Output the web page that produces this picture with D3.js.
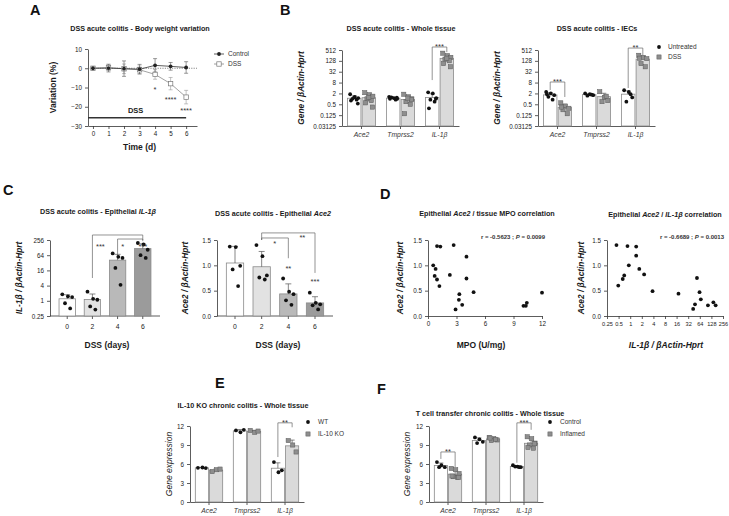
<!DOCTYPE html>
<html><head><meta charset="utf-8">
<script src="https://cdn.jsdelivr.net/npm/d3@7"></script>
<style>body{margin:0;background:#fff}svg{display:block}</style>
</head><body><svg id="c" width="729" height="516"></svg>
<script>
// ---------------- DATA ----------------
// Panel A
const aDays = [0,1,2,3,4,5,6];
const aYTicks = [10,0,-10,-20,-30];
const aControl = [0,0.1,-0.2,-0.5,1.5,1.0,0.4];
const aControlSD = [0.4,2.0,4.0,2.5,3.5,2.0,3.0];
const aDSS = [0,0.3,-0.3,-0.8,-3.2,-8,-15];
const aDSSSD = [0.4,1.5,2.5,2.0,2.5,3.2,3.5];
const aSig = [{day:4,v:-12.5,t:"*"},{day:5,v:-17.7,t:"****"},{day:6,v:-23.4,t:"****"}];

// Panel B
const bGenes = ["Ace2","Tmprss2","IL-1β"];
const bTicks = [0.03125,0.125,0.5,2,8,32,128,512];
const bWholeUntreated = [[1.8,1.3,1.1,1.0,0.9,0.8,0.55,1.2],[1.3,1.1,1.0,1.2,0.9,1.0,1.15],[2.3,2.0,1.1,0.9,0.7,0.3,1.0]];
const bWholeDSS = [[2.2,1.7,1.4,1.0,0.8,0.6,0.35,1.2],[1.8,1.3,1.0,0.7,0.5,0.15,0.9,1.1],[340,250,200,160,130,90,60,180]];
const bIECUntreated = [[2.4,2.0,1.6,1.3,0.9,1.8],[2.0,1.8,1.6,1.5,1.7],[3.0,2.4,1.2,0.7,1.8]];
const bIECDSS = [[0.6,0.4,0.3,0.25,0.15,0.35],[2.5,1.2,0.8,0.7,1.4],[260,200,170,90,60,180]];
const bWholeSig = [{gene:"IL-1β",t:"***",line:750,left:11,right:390}];
const bIECSig = [{gene:"Ace2",t:"***",line:8.6,left:3.1,right:1.27},{gene:"IL-1β",t:"**",line:657,left:4,right:270}];

// Panel C
const cDays = ["0","2","4","6"];
const cIL1bTicks = [0.25,1,4,16,64,256];
const cIL1b = [[1.8,1.5,1.4,0.8,0.5],[2.3,1.2,1.1,0.6,0.45],[75,55,50,20,4.3],[195,170,105,64,50]];
const cAce2Ticks = [0,0.5,1.0,1.5];
const cAce2 = [[1.37,1.36,0.99,0.92,0.59],[1.40,1.18,0.80,0.76,0.72],[0.74,0.48,0.43,0.31,0.22],[0.46,0.26,0.23,0.21,0.13]];

// Panel D
const dMPO = [0.55,0.7,0.8,0.95,0.95,1.3,1.2,2.3,2.7,2.9,3.25,3.3,3.6,4.05,4.05,4.8,10.05,10.3,10.4,12.0];
const dAce2MPO = [1.0,0.79,0.93,1.38,0.72,1.37,0.59,0.81,1.40,0.13,0.32,0.43,0.22,1.17,0.74,0.47,0.20,0.20,0.26,0.46];
const dIL1b = [0.44,0.49,0.64,0.70,0.85,0.92,1.43,1.43,1.72,2.3,3.8,17.9,43,48,54,63,68,104,144,165];
const dAce2IL1b = [1.40,0.60,0.73,0.80,1.38,1.0,1.37,1.19,0.93,0.82,0.49,0.44,0.14,0.23,0.75,0.47,0.33,0.21,0.27,0.21];
const dMPOTicks = [0,3,6,9,12];
const dLogTicks = [0.25,0.5,1,2,4,8,16,32,64,128,256];
const dYTicks = [0,0.5,1.0,1.5];

// Panel E / F
const efGenes = ["Ace2","Tmprss2","IL-1β"];
const efTicks = [0,3,6,9,12];
const eWT = [[5.4,5.45,5.35],[11.3,11.0,11.4],[6.3,4.7,5.0]];
const eKO = [[4.8,5.1,5.2],[11.3,11.0,11.2],[9.7,9.0,7.9]];
const fControl = [[6.3,5.8,5.5,5.5],[10.2,9.9,9.5,9.3],[5.8,5.6,5.5,5.6,5.5]];
const fInflamed = [[5.3,5.1,4.5,4.0,3.9,4.1,3.9],[10.2,10.0,9.8,9.7,9.9,10.1],[10.3,10.0,9.3,9.0,8.5,8.6,9.2]];
const eSig = [{gene:"IL-1β",t:"**",line:12.5,left:7.1,right:11.8}];
const fSig = [{gene:"Ace2",t:"**",line:7.9,left:6.8,right:5.5},{gene:"IL-1β",t:"***",line:12.5,left:6.2,right:11.4}];

// ---------------- HELPERS ----------------
const svg = d3.select("#c");
const FONT = '"Liberation Sans", Arial, sans-serif';
const INK = "#1a1a1a", AXC = "#333";
const TITLE = 7.2, TICK = 6.3;
const spread = [-1,0.15,1,-0.45,0.6,-0.8,0.9,0];
svg.append("rect").attr("width",729).attr("height",516).attr("fill","#fff");

function styleAxis(g){
  g.select(".domain").attr("stroke",AXC).attr("stroke-width",0.8);
  g.selectAll(".tick line").attr("stroke",AXC).attr("stroke-width",0.8);
  g.selectAll(".tick text").attr("font-size",TICK).attr("fill",INK).attr("font-family",FONT);
}
function txt(x,y,parts,o={}){
  const t = svg.append("text").attr("x",x).attr("y",y)
    .attr("text-anchor",o.anchor||"middle").attr("font-size",o.size||6.6)
    .attr("font-weight",o.bold?"bold":"normal").attr("fill",o.fill||INK).attr("font-family",FONT);
  if(o.italic) t.attr("font-style","italic");
  if(o.rotate) t.attr("transform",`rotate(-90,${x},${y})`);
  if(typeof parts==="string") t.text(parts);
  else parts.forEach(p=>{const s=t.append("tspan").text(p[0]); if(p[1]) s.attr("font-style","italic");});
  return t;
}
function line(x1,y1,x2,y2,c,w,dash){
  const l = svg.append("line").attr("x1",x1).attr("y1",y1).attr("x2",x2).attr("y2",y2).attr("stroke",c||AXC).attr("stroke-width",w||0.8);
  if(dash) l.attr("stroke-dasharray",dash);
  return l;
}
function errUp(x,y0,y1,cap,c){ line(x,y0,x,y1,c||"#555",0.7); line(x-cap/2,y1,x+cap/2,y1,c||"#555",0.7); }
function dot(x,y){ svg.append("circle").attr("cx",x).attr("cy",y).attr("r",1.9).attr("fill","#111"); }
function sq(x,y){ svg.append("rect").attr("x",x-2.1).attr("y",y-2.1).attr("width",4.2).attr("height",4.2).attr("fill","#8e8e8e").attr("stroke","#5a5a5a").attr("stroke-width",0.5); }
function bracket(x1,x2,yl,ya,yb,label){
  svg.append("path").attr("d",`M${x1},${ya}V${yl}H${x2}V${yb}`).attr("fill","none").attr("stroke","#666").attr("stroke-width",0.7);
  if(label) txt((x1+x2)/2,yl+1.8,label,{size:7.5,fill:"#333"});
}

// ---------------- PANEL LETTERS ----------------
[["A",30,15],["B",280,15],["C",3,195],["D",380,199],["E",215,388],["F",377,394]].forEach(d=>
  txt(d[1],d[2],d[0],{size:14.5,bold:true,anchor:"start",fill:"#111"}));

// ---------------- PANEL A ----------------
{
  const x = d3.scaleLinear().domain([-0.32,6.7]).range([88,197]);
  const y = d3.scaleLinear().domain([-30,10]).range([126,49]);
  svg.append("g").attr("transform","translate(88,0)").call(d3.axisLeft(y).tickValues(aYTicks).tickFormat(d3.format("d")).tickSize(3).tickSizeOuter(0)).call(styleAxis);
  svg.append("g").attr("transform","translate(0,126)").call(d3.axisBottom(x).tickValues(aDays).tickFormat(d3.format("d")).tickSize(3).tickSizeOuter(0)).call(styleAxis);
  line(x(-0.32),y(0),x(6.7),y(0),"#555",0.7,"1.2,1.2");
  const ln = d3.line().x((d,i)=>x(aDays[i])).y(d=>y(d));
  svg.append("path").attr("d",ln(aDSS)).attr("fill","none").attr("stroke","#8a8a8a").attr("stroke-width",0.8);
  svg.append("path").attr("d",ln(aControl)).attr("fill","none").attr("stroke","#333").attr("stroke-width",0.8);
  aDays.forEach((d,i)=>{
    line(x(d),y(aDSS[i]-aDSSSD[i]),x(d),y(aDSS[i]+aDSSSD[i]),"#999",0.6);
    line(x(d)-2,y(aDSS[i]-aDSSSD[i]),x(d)+2,y(aDSS[i]-aDSSSD[i]),"#999",0.6);
    line(x(d)-2,y(aDSS[i]+aDSSSD[i]),x(d)+2,y(aDSS[i]+aDSSSD[i]),"#999",0.6);
    line(x(d),y(aControl[i]-aControlSD[i]),x(d),y(aControl[i]+aControlSD[i]),"#555",0.6);
    line(x(d)-2,y(aControl[i]-aControlSD[i]),x(d)+2,y(aControl[i]-aControlSD[i]),"#555",0.6);
    line(x(d)-2,y(aControl[i]+aControlSD[i]),x(d)+2,y(aControl[i]+aControlSD[i]),"#555",0.6);
    svg.append("rect").attr("x",x(d)-2.2).attr("y",y(aDSS[i])-2.2).attr("width",4.4).attr("height",4.4).attr("fill","#fff").attr("stroke","#777").attr("stroke-width",0.7);
    svg.append("circle").attr("cx",x(d)).attr("cy",y(aControl[i])).attr("r",1.9).attr("fill","#222");
  });
  aSig.forEach(s=>txt(x(s.day),y(s.v),s.t,{size:7.5,fill:"#333"}));
  line(x(-0.32),y(-25.7),x(6),y(-25.7),"#333",1.5);
  txt(x(2.75),y(-23.4),"DSS",{bold:true,size:7.5});
  txt(56,y(-10),"Variation (%)",{bold:true,size:8.5,rotate:true});
  txt(x(3),150,"Time (d)",{bold:true,size:8.5});
  txt(140,31,"DSS acute colitis - Body weight variation",{bold:true,size:TITLE});
  // legend
  line(214,54,224,54,"#333",0.8); svg.append("circle").attr("cx",219).attr("cy",54).attr("r",1.9).attr("fill","#222");
  txt(228,56.2,"Control",{anchor:"start",size:6.5,fill:"#333"});
  line(214,64,224,64,"#888",0.8); svg.append("rect").attr("x",216.8).attr("y",61.8).attr("width",4.4).attr("height",4.4).attr("fill","#fff").attr("stroke","#777").attr("stroke-width",0.7);
  txt(228,66.2,"DSS",{anchor:"start",size:6.5,fill:"#333"});
}

// ---------------- GROUPED BAR helper ----------------
function grouped(o){
  const x0 = d3.scaleBand().domain(o.genes).range([o.ax,o.ax+o.w]).paddingInner(0.28).paddingOuter(0.14);
  const x1 = d3.scaleBand().domain([0,1]).range([0,x0.bandwidth()]).paddingInner(0.08);
  const y = o.y, base = y.range()[0];
  svg.append("g").attr("transform",`translate(${o.ax},0)`).call(d3.axisLeft(y).tickValues(o.ticks).tickFormat(o.fmt).tickSize(3).tickSizeOuter(0)).call(styleAxis);
  const xa = svg.append("g").attr("transform",`translate(0,${base})`).call(d3.axisBottom(x0).tickSize(3).tickSizeOuter(0)).call(styleAxis);
  xa.selectAll(".tick text").attr("font-style","italic").attr("font-size",6.8).attr("fill","#333");
  [o.g0,o.g1].forEach((grp,k)=>{
    grp.forEach((vals,gi)=>{
      const bw = x1.bandwidth(), gx = x0(o.genes[gi])+x1(k), cx = gx+bw/2;
      const m = d3.mean(vals), sd = d3.deviation(vals);
      svg.append("rect").attr("x",gx).attr("y",y(m)).attr("width",bw).attr("height",base-y(m))
        .attr("fill",k?"#dadada":"#fff").attr("stroke","#8a8a8a").attr("stroke-width",0.8);
      errUp(cx,y(m),y(m+sd),5);
      vals.forEach((v,i)=>{ const px = cx+spread[i%spread.length]*bw*0.3; k?sq(px,y(v)):dot(px,y(v)); });
    });
  });
  o.sig.forEach(s=>{
    const xa_ = x0(s.gene)+x1(0)+x1.bandwidth()/2, xb_ = x0(s.gene)+x1(1)+x1.bandwidth()/2;
    bracket(xa_,xb_,y(s.line),y(s.left),y(s.right),s.t);
  });
  return {x0,x1};
}

// ---------------- PANEL B ----------------
{
  const y = d3.scaleLog().base(2).domain([0.03125,512]).range([126,50]);
  const fmt = d=>String(d);
  grouped({genes:bGenes,ax:342,w:117,y,ticks:bTicks,fmt,g0:bWholeUntreated,g1:bWholeDSS,sig:bWholeSig});
  grouped({genes:bGenes,ax:538,w:117,y,ticks:bTicks,fmt,g0:bIECUntreated,g1:bIECDSS,sig:bIECSig});
  txt(401,31,"DSS acute colitis - Whole tissue",{bold:true,size:TITLE});
  txt(597,31,"DSS acute colitis - IECs",{bold:true,size:TITLE});
  txt(304,88,"Gene / βActin-Hprt",{bold:true,italic:true,size:8.3,rotate:true});
  txt(500,88,"Gene / βActin-Hprt",{bold:true,italic:true,size:8.3,rotate:true});
  dot(659,47); txt(668,49.2,"Untreated",{anchor:"start",size:6.5,fill:"#333"});
  sq(659,57); txt(668,59.2,"DSS",{anchor:"start",size:6.5,fill:"#333"});
}

// ---------------- PANEL C ----------------
const cFills = ["#ffffff","#e2e2e2","#b9b9b9","#9b9b9b"];
function cPanel(o){
  const x = d3.scaleBand().domain(cDays).range([o.ax+4,o.ax+o.w]).paddingInner(0.35).paddingOuter(0.2);
  const y = o.y, base = y.range()[0];
  svg.append("g").attr("transform",`translate(${o.ax},0)`).call(d3.axisLeft(y).tickValues(o.ticks).tickFormat(o.fmt).tickSize(3).tickSizeOuter(0)).call(styleAxis);
  const xa = svg.append("g").attr("transform",`translate(0,${base})`).call(d3.axisBottom(x).tickSize(3).tickSizeOuter(0)).call(styleAxis);
  xa.select(".domain").attr("d",`M${o.ax},0H${o.ax+o.w+4}`);
  xa.selectAll(".tick text").attr("font-size",6.8).attr("dy","1.0em");
  o.data.forEach((vals,i)=>{
    const bw = x.bandwidth(), gx = x(cDays[i]), cx = gx+bw/2;
    const m = d3.mean(vals), sd = d3.deviation(vals);
    svg.append("rect").attr("x",gx).attr("y",y(m)).attr("width",bw).attr("height",base-y(m))
      .attr("fill",cFills[i]).attr("stroke","#8a8a8a").attr("stroke-width",0.8);
    errUp(cx,y(m),y(m+sd),6);
    vals.forEach((v,j)=>dot(cx+spread[j%spread.length]*bw*0.3,y(v)));
  });
  return x;
}
{
  const y = d3.scaleLog().base(2).domain([0.25,256]).range([316,240]);
  const x = cPanel({ax:50,w:106,y,ticks:cIL1bTicks,fmt:d=>String(d),data:cIL1b});
  const c = d=>x(d)+x.bandwidth()/2;
  bracket(c("2"),c("6"),y(404),y(8),y(256),null);
  bracket(c("4"),c("6"),y(280),y(65),y(230),null);
  txt(c("2")+8,249,"***",{size:7.5,fill:"#333"});
  txt(c("4")+5,249,"*",{size:7.5,fill:"#333"});
  txt(c("6"),249,"***",{size:7.5,fill:"#333"});
  txt(98,214,[["DSS acute colitis - Epithelial ",false],["IL-1β",true]],{bold:true,size:TITLE});
  txt(22,278,"IL-1β / βActin-Hprt",{bold:true,italic:true,size:8.3,rotate:true});
  txt(107,348,"DSS (days)",{bold:true,size:8.5});
}
{
  const y = d3.scaleLinear().domain([0,1.5]).range([316,240]);
  const x = cPanel({ax:217,w:112,y,ticks:cAce2Ticks,fmt:d3.format(".1f"),data:cAce2});
  const c = d=>x(d)+x.bandwidth()/2;
  bracket(c("2"),c("6"),y(1.64),y(1.5),y(0.85),null);
  bracket(c("2"),c("4"),y(1.54),y(1.5),y(1.14),null);
  txt(c("4")+14,240,"**",{size:7.5,fill:"#333"});
  txt(c("2")+13,246,"*",{size:7.5,fill:"#333"});
  txt(c("4"),271,"**",{size:7.5,fill:"#333"});
  txt(c("6"),284,"***",{size:7.5,fill:"#333"});
  txt(273,216,[["DSS acute colitis - Epithelial ",false],["Ace2",true]],{bold:true,size:TITLE});
  txt(188,278,"Ace2 / βActin-Hprt",{bold:true,italic:true,size:8.3,rotate:true});
  txt(278,348,"DSS (days)",{bold:true,size:8.5});
}

// ---------------- PANEL D ----------------
{
  const y = d3.scaleLinear().domain([0,1.5]).range([316,240]);
  const x = d3.scaleLinear().domain([0,12]).range([428,542]);
  svg.append("g").attr("transform","translate(428,0)").call(d3.axisLeft(y).tickValues(dYTicks).tickFormat(d3.format(".1f")).tickSize(3).tickSizeOuter(0)).call(styleAxis);
  svg.append("g").attr("transform","translate(0,316)").call(d3.axisBottom(x).tickValues(dMPOTicks).tickSize(3).tickSizeOuter(0)).call(styleAxis);
  dMPO.forEach((v,i)=>dot(x(v),y(dAce2MPO[i])));
  txt(487,216,[["Epithelial ",false],["Ace2",true],[" / tissue MPO correlation",false]],{bold:true,size:TITLE});
  txt(545,239,[["r = -0.5623 ; ",false],["P",true],[" = 0.0099",false]],{bold:true,size:6,anchor:"end",fill:"#333"});
  txt(403,278,"Ace2 / βActin-Hprt",{bold:true,italic:true,size:8.3,rotate:true});
  txt(481,348,"MPO (U/mg)",{bold:true,size:8.5});
}
{
  const y = d3.scaleLinear().domain([0,1.5]).range([316,240]);
  const x = d3.scaleLog().base(2).domain([0.25,256]).range([607,723]);
  svg.append("g").attr("transform","translate(607,0)").call(d3.axisLeft(y).tickValues(dYTicks).tickFormat(d3.format(".1f")).tickSize(3).tickSizeOuter(0)).call(styleAxis);
  const xa = svg.append("g").attr("transform","translate(0,316)").call(d3.axisBottom(x).tickValues(dLogTicks).tickFormat(d=>String(d)).tickSize(3).tickSizeOuter(0)).call(styleAxis);
  xa.selectAll(".tick text").attr("font-size",5.6);
  dIL1b.forEach((v,i)=>dot(x(v),y(dAce2IL1b[i])));
  txt(665,217,[["Epithelial ",false],["Ace2",true],[" / ",false],["IL-1β",true],[" correlation",false]],{bold:true,size:TITLE});
  txt(724,239,[["r = -0.6689 ; ",false],["P",true],[" = 0.0013",false]],{bold:true,size:6,anchor:"end",fill:"#333"});
  txt(584,278,"Ace2 / βActin-Hprt",{bold:true,italic:true,size:8.3,rotate:true});
  txt(666,348,"IL-1β / βActin-Hprt",{bold:true,italic:true,size:8.5});
}

// ---------------- PANEL E / F ----------------
{
  const y = d3.scaleLinear().domain([0,12]).range([502,426]);
  const fmt = d=>String(d);
  grouped({genes:efGenes,ax:190,w:114,y,ticks:efTicks,fmt,g0:eWT,g1:eKO,sig:eSig});
  grouped({genes:efGenes,ax:429,w:114,y,ticks:efTicks,fmt,g0:fControl,g1:fInflamed,sig:fSig});
  txt(243,408,"IL-10 KO chronic colitis - Whole tissue",{bold:true,size:TITLE});
  txt(490,416,"T cell transfer chronic colitis - Whole tissue",{bold:true,size:TITLE});
  txt(172,464,"Gene expression",{italic:true,size:8.5,rotate:true});
  txt(410,464,"Gene expression",{italic:true,size:8.5,rotate:true});
  dot(308,422); txt(318,424.2,"WT",{anchor:"start",size:6.5,fill:"#333"});
  sq(308,434); txt(318,436.2,"IL-10 KO",{anchor:"start",size:6.5,fill:"#333"});
  dot(550,422); txt(560,424.2,"Control",{anchor:"start",size:6.5,fill:"#333"});
  sq(550,434); txt(560,436.2,"Inflamed",{anchor:"start",size:6.5,fill:"#333"});
}
</script></body></html>
